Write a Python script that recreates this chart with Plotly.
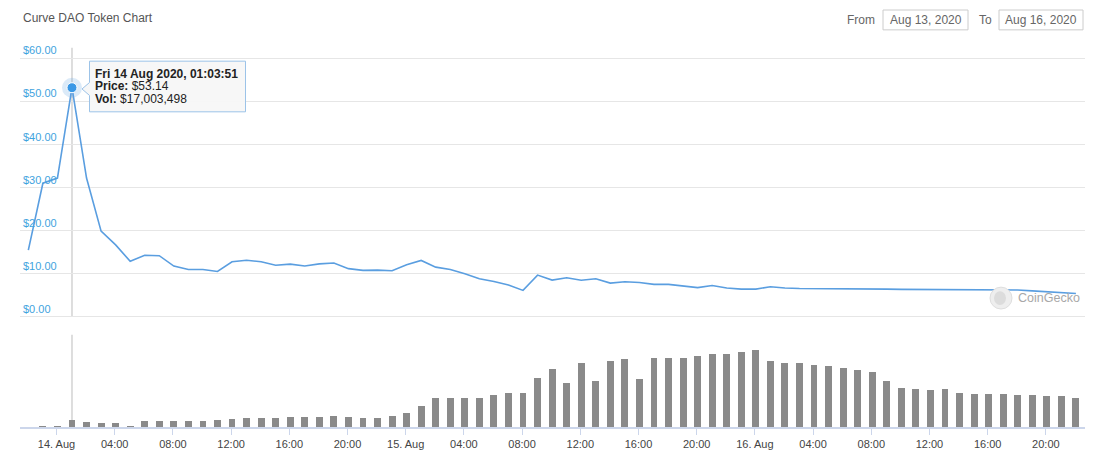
import pandas as pd
import plotly.graph_objects as go

# ---------------- data ----------------
start_time = "2020-08-13 22:03:51"   # first hourly sample
prices = [15.5, 31.0, 32.2, 53.14, 32.2, 19.9, 16.7, 12.9, 14.3, 14.2,
          11.8, 11.0, 11.0, 10.55, 12.8, 13.15, 12.8, 12.0, 12.25, 11.8,
          12.3, 12.5, 11.2, 10.8, 10.85, 10.7, 12.1, 13.1, 11.55, 11.0,
          10.0, 8.85, 8.2, 7.4, 6.15, 9.7, 8.55, 9.1, 8.5, 8.85,
          7.85, 8.15, 8.0, 7.55, 7.55, 7.1, 6.8, 7.3, 6.7, 6.45,
          6.45, 7.0, 6.7, 6.6, 6.6, 6.55, 6.5, 6.5, 6.45, 6.45,
          6.4, 6.4, 6.4, 6.4, 6.4, 6.35, 6.35, 6.3, 6.25, 6.05,
          5.85, 5.6, 5.45]
volumes_musd = [0.0, 1.6, 3.0, 17.0, 11.6, 9.3, 10.0, 2.3, 14.0, 14.0,
                14.0, 14.0, 14.0, 16.3, 20.3, 22.6, 22.6, 22.6, 24.0, 24.0,
                24.0, 26.3, 24.0, 22.6, 22.6, 26.3, 32.6, 51.2, 68.2, 68.2,
                68.2, 68.2, 76.9, 81.5, 81.5, 116.5, 137.4, 104.1, 149.8, 107.8,
                156.0, 160.0, 114.1, 162.3, 163.7, 162.3, 167.0, 172.3, 172.3, 177.0,
                181.0, 156.0, 151.4, 149.8, 147.4, 142.8, 139.0, 135.1, 130.4, 107.8,
                93.2, 89.2, 86.9, 89.2, 81.5, 79.2, 79.2, 79.2, 76.9, 76.9,
                74.5, 72.9, 68.2]
tick_start = "2020-08-14 00:00"
tick_labels = ["14. Aug", "04:00", "08:00", "12:00", "16:00", "20:00",
               "15. Aug", "04:00", "08:00", "12:00", "16:00", "20:00",
               "16. Aug", "04:00", "08:00", "12:00", "16:00", "20:00"]
price_ticks = [0, 10, 20, 30, 40, 50, 60]
price_tick_labels = ["$0.00", "$10.00", "$20.00", "$30.00", "$40.00", "$50.00", "$60.00"]
hover_time = "2020-08-14 01:03:51"
hover_price = 53.14
hover_vol = "$17,003,498"
title_text = "Curve DAO Token Chart"
from_date = "Aug 13, 2020"
to_date = "Aug 16, 2020"

times = pd.date_range(start_time, periods=len(prices), freq="h")
tick_vals = pd.date_range(tick_start, periods=len(tick_labels), freq="4h")

# page body has an 8px margin: the figure is drawn 8px right/down of the window
OFF = 8
W, H = 1100 - OFF, 460 - OFF
def px(x):
    return (x - OFF) / W
def py(y):
    return 1 - (y - OFF) / H

FONT = "Liberation Sans, Arial, sans-serif"
LINE_BLUE = "#5a9ee0"
LABEL_BLUE = "#3fa3de"

fig = go.Figure()

fig.add_trace(go.Scatter(
    x=times, y=prices, mode="lines",
    line=dict(color=LINE_BLUE, width=1.6),
    xaxis="x", yaxis="y", hoverinfo="skip", showlegend=False))

fig.add_trace(go.Bar(
    x=times, y=volumes_musd, width=1.7e6,
    marker=dict(color="#8a8a8a", line=dict(width=0)),
    xaxis="x2", yaxis="y2", hoverinfo="skip", showlegend=False))

# hover marker (halo + dot)
fig.add_trace(go.Scatter(
    x=[hover_time], y=[hover_price], mode="markers",
    marker=dict(size=20, color="rgba(90,158,224,0.22)"),
    xaxis="x", yaxis="y", hoverinfo="skip", showlegend=False))
fig.add_trace(go.Scatter(
    x=[hover_time], y=[hover_price], mode="markers",
    marker=dict(size=10, color="#3a98e6", line=dict(color="white", width=1)),
    xaxis="x", yaxis="y", hoverinfo="skip", showlegend=False))

x_range = ["2020-08-13 21:29:28", "2020-08-16 22:41:20"]
x_dom = [px(20), min(1.0, px(1085))]

fig.update_layout(
    width=W, height=H,
    margin=dict(l=0, r=0, t=0, b=0),
    paper_bgcolor="white", plot_bgcolor="white",
    font=dict(family=FONT, size=11, color="#333333"),
    bargap=0,
    xaxis=dict(domain=x_dom, range=x_range, type="date", anchor="y",
               showgrid=False, showticklabels=False, ticks="", showline=False,
               zeroline=False),
    yaxis=dict(domain=[py(316), py(45)], range=[0, 62.4], anchor="x",
               tickvals=price_ticks, ticktext=price_tick_labels,
               ticklabelposition="inside top", ticklabeloverflow="allow",
               tickfont=dict(color=LABEL_BLUE, size=11, family=FONT),
               showgrid=True, gridcolor="#e6e6e6", gridwidth=1,
               zeroline=True, zerolinecolor="#e6e6e6", zerolinewidth=1,
               showline=False, ticks=""),
    xaxis2=dict(domain=x_dom, range=x_range, type="date", anchor="y2",
                matches="x",
                tickvals=list(tick_vals), ticktext=tick_labels,
                tickfont=dict(color="#444444", size=11, family=FONT),
                ticks="outside", ticklen=6, tickcolor="#ccd6eb", tickwidth=1,
                showline=True, linecolor="#ccd6eb", linewidth=1.5,
                showgrid=False, zeroline=False),
    yaxis2=dict(domain=[py(427), py(334)], range=[0, 216.6], anchor="x2",
                showticklabels=False, showgrid=False, zeroline=False,
                showline=False, ticks=""),
)

shapes = []
# crosshair lines
shapes.append(dict(type="line", xref="x", yref="y domain", x0=hover_time, x1=hover_time,
                   y0=0, y1=1, line=dict(color="#d3d3d3", width=1.5), layer="below"))
shapes.append(dict(type="line", xref="x2", yref="y2 domain", x0=hover_time, x1=hover_time,
                   y0=0, y1=1, line=dict(color="#d3d3d3", width=1.5), layer="below"))
# date input boxes
for x0, x1 in [(883, 968), (999, 1083)]:
    shapes.append(dict(type="rect", xref="paper", yref="paper",
                       x0=px(x0), x1=px(x1), y0=py(27), y1=py(7),
                       line=dict(color="#cccccc", width=1), fillcolor="white"))
# CoinGecko logo circle
shapes.append(dict(type="circle", xref="paper", yref="paper",
                   x0=px(990), x1=px(1012), y0=py(308), y1=py(286),
                   line=dict(color="#dedede", width=1), fillcolor="#eeeeee"))
shapes.append(dict(type="circle", xref="paper", yref="paper",
                   x0=px(994), x1=px(1006), y0=py(304), y1=py(290),
                   line=dict(width=0), fillcolor="#dcdcdc"))
# tooltip box with notch
tip = (f"M {px(89.5)},{py(58.5)} L {px(245.5)},{py(58.5)} L {px(245.5)},{py(109.5)} "
       f"L {px(89.5)},{py(109.5)} L {px(89.5)},{py(93)} L {px(82)},{py(86.5)} "
       f"L {px(89.5)},{py(80)} Z")
shapes.append(dict(type="path", xref="paper", yref="paper", path=tip,
                   line=dict(color="#9cc3e8", width=1), fillcolor="rgba(247,247,247,0.96)",
                   layer="above"))
fig.update_layout(shapes=shapes)

def text_ann(text, x, y, xanchor="left", size=12, color="#666666"):
    return dict(text=text, x=px(x), y=py(y), xref="paper", yref="paper",
                xanchor=xanchor, yanchor="middle", showarrow=False,
                font=dict(size=size, color=color, family=FONT))

annotations = [
    text_ann(title_text, 21, 15, "left", 12, "#555555"),
    text_ann("From", 877, 17, "right"),
    text_ann("To", 994, 17, "right"),
    text_ann(from_date, 925.5, 17, "center"),
    text_ann(to_date, 1041, 17, "center"),
    text_ann("CoinGecko", 1016, 297, "left", 12.5, "#a8a8a8"),
    text_ann("<b>Fri 14 Aug 2020, 01:03:51</b>", 93, 71, "left", 12, "#222222"),
    text_ann(f"<b>Price:</b> ${hover_price:.2f}", 93, 84, "left", 12, "#222222"),
    text_ann(f"<b>Vol:</b> {hover_vol}", 93, 97, "left", 12, "#222222"),
]
fig.update_layout(annotations=annotations)

fig.write_html("out.html")
